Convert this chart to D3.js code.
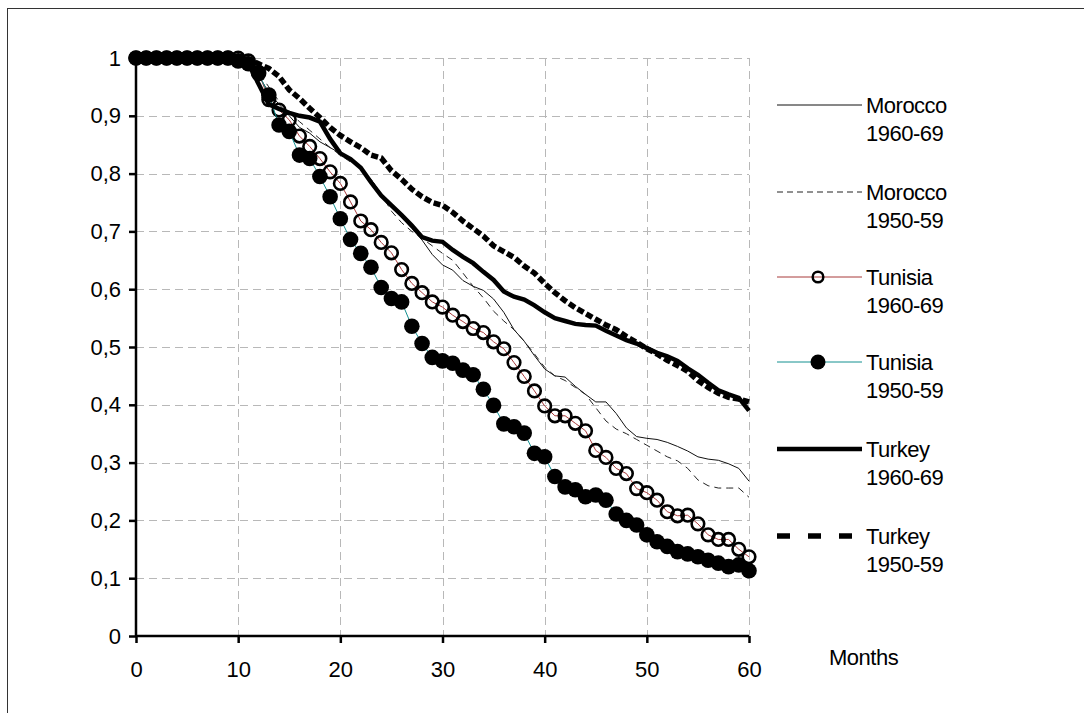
<!DOCTYPE html>
<html>
<head>
<meta charset="utf-8">
<script src="https://cdn.jsdelivr.net/npm/d3@7"></script>
<style>
body { margin: 0; background: #fff; }
text { font-family: "Liberation Sans", Arial, sans-serif; fill: #000; }
</style>
</head>
<body>
<script>
// months 0..60
var months = d3.range(0, 61);
var yTicks = [0, 0.1, 0.2, 0.3, 0.4, 0.5, 0.6, 0.7, 0.8, 0.9, 1];
var xTicks = [0, 10, 20, 30, 40, 50, 60];

var morocco6069 = [1, 1, 1, 1, 1, 1, 1, 1, 1, 1, 1, 1, 0.97, 0.94, 0.92, 0.9, 0.88, 0.87, 0.855, 0.845,
    0.835, 0.822, 0.808, 0.79, 0.765, 0.745, 0.725, 0.705, 0.685, 0.66, 0.642, 0.633, 0.615, 0.605, 0.598,
    0.583, 0.56, 0.53, 0.51, 0.485, 0.462, 0.45, 0.448, 0.432, 0.418, 0.405, 0.405, 0.385, 0.36, 0.345,
    0.342, 0.34, 0.335, 0.328, 0.32, 0.31, 0.306, 0.304, 0.298, 0.29, 0.268];
var morocco5059 = [1, 1, 1, 1, 1, 1, 1, 1, 1, 1, 1, 1, 0.975, 0.95, 0.925, 0.905, 0.89, 0.875, 0.86, 0.845,
    0.832, 0.82, 0.81, 0.79, 0.765, 0.735, 0.715, 0.7, 0.688, 0.675, 0.662, 0.65, 0.628, 0.605, 0.585,
    0.562, 0.545, 0.53, 0.51, 0.488, 0.465, 0.45, 0.442, 0.43, 0.418, 0.395, 0.372, 0.358, 0.35, 0.34,
    0.33, 0.32, 0.31, 0.303, 0.29, 0.27, 0.26, 0.256, 0.256, 0.256, 0.24];
var tunisia6069 = [1, 1, 1, 1, 1, 1, 1, 1, 1, 1, 1, 0.995, 0.975, 0.928, 0.91, 0.893, 0.865, 0.847, 0.826, 0.803,
    0.783, 0.751, 0.718, 0.703, 0.681, 0.663, 0.634, 0.61, 0.594, 0.578, 0.569, 0.555, 0.544, 0.532, 0.525,
    0.509, 0.497, 0.473, 0.449, 0.424, 0.398, 0.381, 0.381, 0.368, 0.355, 0.321, 0.309, 0.29, 0.281, 0.255,
    0.248, 0.235, 0.215, 0.208, 0.209, 0.194, 0.175, 0.167, 0.167, 0.15, 0.137];
var tunisia5059 = [1, 1, 1, 1, 1, 1, 1, 1, 1, 1, 0.995, 0.99, 0.973, 0.936, 0.884, 0.873, 0.832, 0.826, 0.795, 0.76,
    0.722, 0.686, 0.662, 0.638, 0.603, 0.584, 0.578, 0.536, 0.506, 0.482, 0.476, 0.472, 0.46, 0.452, 0.427,
    0.399, 0.367, 0.362, 0.351, 0.316, 0.31, 0.276, 0.258, 0.253, 0.241, 0.244, 0.235, 0.211, 0.2, 0.192,
    0.175, 0.163, 0.155, 0.146, 0.142, 0.137, 0.131, 0.126, 0.12, 0.123, 0.113];
var turkey6069 = [1, 1, 1, 1, 1, 1, 1, 1, 1, 1, 1, 0.99, 0.955, 0.92, 0.912, 0.905, 0.9, 0.897, 0.89, 0.86,
    0.835, 0.825, 0.81, 0.785, 0.762, 0.745, 0.728, 0.71, 0.69, 0.684, 0.682, 0.668, 0.656, 0.645, 0.63,
    0.616, 0.596, 0.587, 0.582, 0.572, 0.56, 0.55, 0.545, 0.54, 0.538, 0.537, 0.528, 0.52, 0.512, 0.506,
    0.498, 0.49, 0.484, 0.476, 0.463, 0.452, 0.438, 0.425, 0.418, 0.412, 0.39];
var turkey5059 = [1, 1, 1, 1, 1, 1, 1, 1, 1, 1, 1, 0.998, 0.99, 0.982, 0.968, 0.945, 0.93, 0.913, 0.897, 0.88,
    0.866, 0.855, 0.845, 0.832, 0.827, 0.805, 0.79, 0.773, 0.76, 0.75, 0.745, 0.733, 0.718, 0.705, 0.692,
    0.675, 0.665, 0.655, 0.64, 0.628, 0.61, 0.594, 0.58, 0.568, 0.558, 0.548, 0.538, 0.53, 0.518, 0.508,
    0.497, 0.488, 0.477, 0.468, 0.458, 0.442, 0.43, 0.42, 0.413, 0.41, 0.405];

var series = [
    { name: "Morocco", years: "1960-69", values: morocco6069, color: "#111", width: 1, dash: null, legendDash: null, marker: null },
    { name: "Morocco", years: "1950-59", values: morocco5059, color: "#222", width: 1, dash: "7,5", legendDash: "6,4", marker: null },
    { name: "Tunisia", years: "1960-69", values: tunisia6069, color: "#a83a3a", width: 1, dash: null, legendDash: null, marker: "open" },
    { name: "Tunisia", years: "1950-59", values: tunisia5059, color: "#139090", width: 1, dash: null, legendDash: null, marker: "filled" },
    { name: "Turkey", years: "1960-69", values: turkey6069, color: "#000", width: 4.5, dash: null, legendDash: null, marker: null },
    { name: "Turkey", years: "1950-59", values: turkey5059, color: "#000", width: 5.5, dash: "7,3", legendDash: "13,18", marker: null }
];

var width = 1084,
    height = 713;

var svg = d3.select("body").append("svg")
    .attr("width", width)
    .attr("height", height);

// outer frame (right and bottom fall outside the picture)
svg.append("rect")
    .attr("x", 7.5).attr("y", 8.5)
    .attr("width", 1100).attr("height", 720)
    .attr("fill", "none")
    .attr("stroke", "#333")
    .attr("stroke-width", 1);

var x = d3.scaleLinear().domain([0, 60]).range([136, 749]);
var y = d3.scaleLinear().domain([0, 1]).range([636, 58]);

// grid
svg.append("g").selectAll("line")
    .data(yTicks.filter(function (d) { return d > 0; }))
    .enter().append("line")
    .attr("x1", x(0)).attr("x2", x(60))
    .attr("y1", function (d) { return Math.round(y(d)) + 0.5; })
    .attr("y2", function (d) { return Math.round(y(d)) + 0.5; })
    .attr("stroke", "#b8b8b8")
    .attr("stroke-dasharray", "8,5");

svg.append("g").selectAll("line")
    .data(xTicks.filter(function (d) { return d > 0; }))
    .enter().append("line")
    .attr("x1", function (d) { return Math.round(x(d)) + 0.5; })
    .attr("x2", function (d) { return Math.round(x(d)) + 0.5; })
    .attr("y1", y(1)).attr("y2", y(0))
    .attr("stroke", "#b8b8b8")
    .attr("stroke-dasharray", "8,5");

// axes
var yAxis = svg.append("g")
    .attr("transform", "translate(" + x(0) + ",0)")
    .call(d3.axisLeft(y).tickValues(yTicks).tickSize(7).tickPadding(8)
        .tickFormat(function (d) { return d === 0 || d === 1 ? String(d) : d3.format(".1f")(d).replace(".", ","); }));
var xAxis = svg.append("g")
    .attr("transform", "translate(0," + y(0) + ")")
    .call(d3.axisBottom(x).tickValues(xTicks).tickSize(7).tickPadding(18).tickFormat(d3.format("d")));

[yAxis, xAxis].forEach(function (g) {
    g.select(".domain").attr("stroke", "#000").attr("stroke-width", 2.5);
    g.selectAll(".tick line").attr("stroke", "#000").attr("stroke-width", 2.5);
    g.selectAll(".tick text")
        .attr("font-family", "Liberation Sans, Arial, sans-serif")
        .attr("font-size", "22px")
        .attr("fill", "#000");
});
yAxis.select(".domain").attr("d", "M0," + y(0) + "V" + y(1));
xAxis.select(".domain").attr("d", "M" + x(0) + ",0H" + x(60));

svg.append("text")
    .attr("x", 829).attr("y", 665)
    .attr("font-size", "22px")
    .attr("letter-spacing", "-0.5px")
    .text("Months");

var line = d3.line()
    .x(function (d, i) { return x(months[i]); })
    .y(function (d) { return y(d); });

var plot = svg.append("g");

series.forEach(function (s) {
    plot.append("path")
        .datum(s.values)
        .attr("d", line)
        .attr("fill", "none")
        .attr("stroke", s.color)
        .attr("stroke-width", s.width)
        .attr("stroke-dasharray", s.dash);

    if (s.marker === "open") {
        plot.append("g").selectAll("circle")
            .data(s.values)
            .enter().append("circle")
            .attr("cx", function (d, i) { return x(months[i]); })
            .attr("cy", function (d) { return y(d); })
            .attr("r", 6.3)
            .attr("fill", "none")
            .attr("stroke", "#000")
            .attr("stroke-width", 2.6);
    } else if (s.marker === "filled") {
        plot.append("g").selectAll("circle")
            .data(s.values)
            .enter().append("circle")
            .attr("cx", function (d, i) { return x(months[i]); })
            .attr("cy", function (d) { return y(d); })
            .attr("r", 7.8)
            .attr("fill", "#000");
    }
});

// legend
var legendY = [105, 192, 277, 362, 449, 536];
var legend = svg.append("g").selectAll("g")
    .data(series)
    .enter().append("g")
    .attr("transform", function (d, i) { return "translate(0," + legendY[i] + ")"; });

legend.append("line")
    .attr("x1", 777).attr("x2", 862)
    .attr("y1", 0).attr("y2", 0)
    .attr("stroke", function (d) { return d.color; })
    .attr("stroke-width", function (d) { return d.width; })
    .attr("stroke-dasharray", function (d) { return d.legendDash; });

legend.filter(function (d) { return d.marker === "open"; })
    .append("circle")
    .attr("cx", 818).attr("cy", 0).attr("r", 5.3)
    .attr("fill", "none").attr("stroke", "#000").attr("stroke-width", 2.5);
legend.filter(function (d) { return d.marker === "filled"; })
    .append("circle")
    .attr("cx", 818).attr("cy", 0).attr("r", 7.5)
    .attr("fill", "#000");

legend.append("text")
    .attr("x", 866).attr("y", 8)
    .attr("font-size", "22px")
    .attr("letter-spacing", "-0.5px")
    .text(function (d) { return d.name; });
legend.append("text")
    .attr("x", 866).attr("y", 36)
    .attr("font-size", "22px")
    .attr("letter-spacing", "-0.5px")
    .text(function (d) { return d.years; });
</script>
</body>
</html>
